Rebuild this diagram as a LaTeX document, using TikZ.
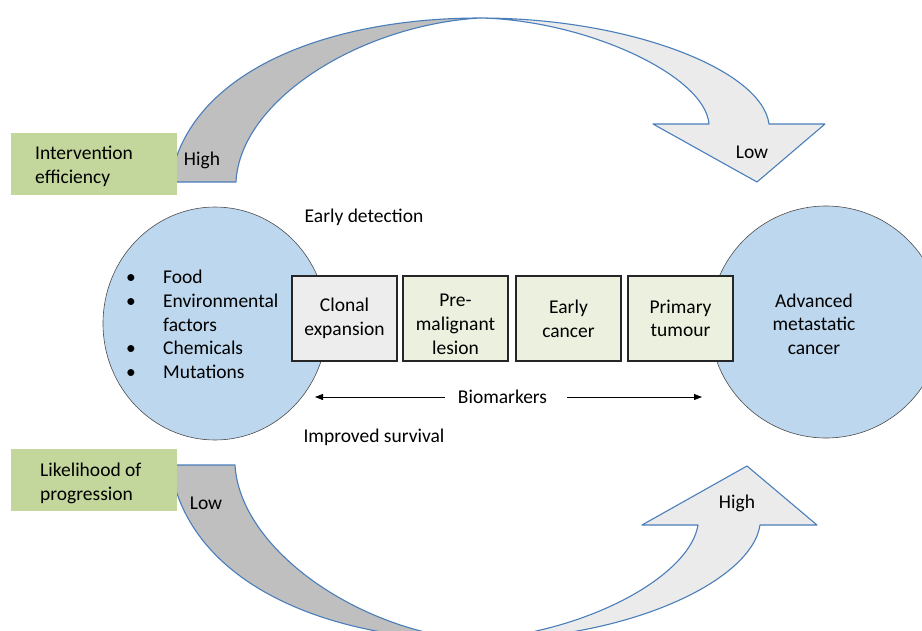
\documentclass[tikz,border=0pt]{standalone}
\usepackage{fontspec}
\setmainfont{Carlito}
\usetikzlibrary{arrows.meta,shapes.geometric}
\definecolor{circfill}{HTML}{BDD7EE}
\definecolor{greenfill}{HTML}{C3D69B}
\definecolor{stagefill}{HTML}{EBF1DE}
\definecolor{clonalfill}{HTML}{EDEDED}
\definecolor{arrowline}{HTML}{4A7EBB}
\definecolor{darkband}{HTML}{BFBFBF}
\definecolor{lightband}{HTML}{EBEBEB}
\tikzset{
  band/.style={draw=arrowline, line width=1.1pt, line join=round},
  bigcircle/.style={draw=black!70, line width=0.6pt, fill=circfill, inner sep=0pt},
  stagebox/.style={draw=black!85, line width=1.2pt, fill=stagefill, minimum width=105pt, minimum height=85pt, inner sep=0pt, align=center},
  labelbox/.style={fill=greenfill, minimum width=166pt, minimum height=62pt, inner sep=0pt},
  txt/.style={inner sep=0pt, align=center},
  bioarrow/.style={line width=0.8pt, -{Triangle[length=8pt,width=6pt]}}
}
\begin{document}
\begin{tikzpicture}[x=1pt,y=-1pt,font=\fontsize{19.5}{23.7}\selectfont]
\useasboundingbox (0,0) rectangle (922,630);
\clip (0,0) rectangle (922,630);

% top curved arrow (pixel coordinates, y downwards)
\draw[band, fill=darkband] (170,182) .. controls (188,70) and (330,18) .. (480,18)
  .. controls (360,25) and (240,100) .. (236,182) -- cycle;
\draw[band, fill=lightband] (480,18) .. controls (630,18) and (762,70) .. (769,124)
  -- (825,124) -- (757,182) -- (653,124) -- (709,124)
  .. controls (705,75) and (585,20) .. (480,18) -- cycle;

% bottom curved arrow
\draw[band, fill=darkband] (170,465) .. controls (188,585) and (330,640) .. (475,640)
  .. controls (360,632) and (240,550) .. (235,465) -- cycle;
\draw[band, fill=lightband] (475,640) .. controls (630,640) and (752,580) .. (760,525)
  -- (817,525) -- (747,466) -- (642,525) -- (698,525)
  .. controls (690,575) and (590,632) .. (475,640) -- cycle;

% green label boxes
\node[labelbox, anchor=north west] (ie) at (11,133) {};
\node[labelbox, anchor=north west] (lp) at (11,449) {};
\node[txt, align=left, anchor=west] (ietext) at ([xshift=24pt,yshift=-2pt]ie.west) {Intervention\\efficiency};
\node[txt, align=left, anchor=west] (lptext) at ([xshift=29pt,yshift=-3pt]lp.west) {Likelihood of\\progression};

\node[txt] (hightop) at (202,160) {High};
\node[txt] (lowtop) at (752,152) {Low};
\node[txt] (lowbot) at (206,503) {Low};
\node[txt] (highbot) at (737,503) {High};

% circles
\node[bigcircle, ellipse, minimum width=224pt, minimum height=233pt] (cause) at (215,323.5) {};
\node[bigcircle, circle, minimum size=232pt] (adv) at (826,322) {};
\node[txt] (advtext) at (814,324) {Advanced\\metastatic\\cancer};

\node[txt, anchor=west, align=left] (list) at (126,326.5) {%
  \begin{tabular}{@{}l@{}l@{}}
  \makebox[37pt][l]{\textbullet} & Food\\
  \textbullet & Environmental\\
   & factors\\
  \textbullet & Chemicals\\
  \textbullet & Mutations
  \end{tabular}};

% stage boxes
\node[stagebox, fill=clonalfill] (clonal) at (344.5,318.5) {Clonal\\expansion};
\node[stagebox] (premal) at (455.5,318.5) {};
\node[txt] (premaltext) at ([yshift=-6pt]premal.center) {Pre-\\malignant\\lesion};
\node[stagebox] (early) at (568.5,318.5) {Early\\cancer};
\node[stagebox] (primary) at (680.5,318.5) {Primary\\tumour};

% labels
\node[txt] (detect) at (364,217) {Early detection};
\node[txt] (surv) at (374,437) {Improved survival};

% biomarkers
\node[txt] (bio) at (502.5,397) {Biomarkers};
\coordinate (bl1) at (445,397);
\coordinate (bl2) at (315,397);
\coordinate (br1) at (567,397);
\coordinate (br2) at (702,397);
\draw[bioarrow] (bl1) -- (bl2);
\draw[bioarrow] (br1) -- (br2);
\end{tikzpicture}
\end{document}
